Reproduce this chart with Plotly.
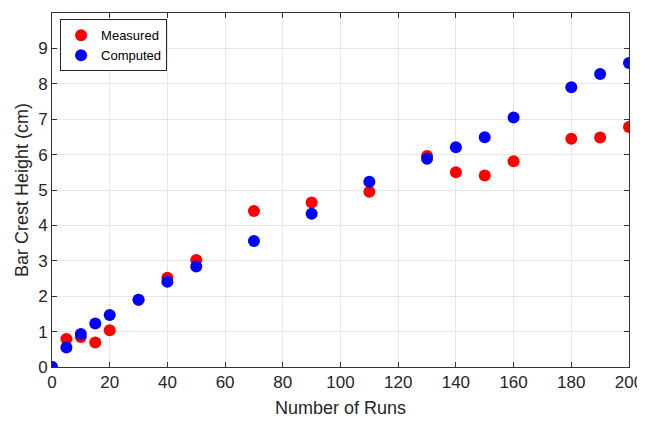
import plotly.graph_objects as go

runs = [0, 5, 10, 15, 20, 30, 40, 50, 70, 90, 110, 130, 140, 150, 160, 180, 190, 200]
measured = [0, 0.79, 0.85, 0.69, 1.04, 1.90, 2.52, 3.02, 4.41, 4.65, 4.95, 5.96, 5.50, 5.41, 5.81, 6.45, 6.48, 6.78]
computed = [0, 0.55, 0.93, 1.23, 1.47, 1.90, 2.41, 2.84, 3.56, 4.33, 5.23, 5.88, 6.21, 6.49, 7.05, 7.90, 8.28, 8.59]
x_ticks = [0, 20, 40, 60, 80, 100, 120, 140, 160, 180, 200]
y_ticks = [0, 1, 2, 3, 4, 5, 6, 7, 8, 9]

FONT = "Liberation Sans, Arial, Helvetica, sans-serif"

fig = go.Figure()
fig.add_trace(go.Scatter(x=runs, y=measured, mode="markers", name="Measured",
                         marker=dict(color="#ff0000", size=12, line=dict(width=0))))
fig.add_trace(go.Scatter(x=runs, y=computed, mode="markers", name="Computed",
                         marker=dict(color="#0000ff", size=12, line=dict(width=0))))

axis_common = dict(
    showline=True, linecolor="#333333", linewidth=1, mirror="ticks",
    ticks="inside", ticklen=5, tickcolor="#333333", tickwidth=1,
    showgrid=True, gridcolor="#e6e6e6", gridwidth=1, zeroline=False,
    automargin=False, ticklabeloverflow="allow",
    tickfont=dict(family=FONT, size=17, color="#262626"),
)

# page body has an 8px margin, so the figure is sized to fill the rest of the window
fig.update_layout(
    width=637, height=414,
    margin=dict(l=44, r=16, t=5, b=55),
    paper_bgcolor="white", plot_bgcolor="white",
    font=dict(family=FONT, color="#262626"),
    xaxis=dict(range=[0, 200], tickvals=x_ticks, **axis_common),
    yaxis=dict(range=[0, 10], tickvals=y_ticks, **axis_common),
    legend=dict(x=0.014, y=0.982, xanchor="left", yanchor="top",
                bgcolor="white", bordercolor="#262626", borderwidth=1,
                font=dict(family=FONT, size=13, color="#000000"), itemsizing="constant",
                tracegroupgap=0, itemwidth=30),
    showlegend=True,
    annotations=[
        dict(text="Number of Runs", xref="paper", yref="paper", x=0.5, y=-0.116,
             xanchor="center", yanchor="middle", showarrow=False,
             font=dict(family=FONT, size=18, color="#262626")),
        dict(text="Bar Crest Height (cm)", xref="paper", yref="paper", x=-0.052, y=0.5,
             xanchor="center", yanchor="middle", showarrow=False, textangle=-90,
             font=dict(family=FONT, size=18, color="#262626")),
    ],
)

fig.write_html("out.html")
